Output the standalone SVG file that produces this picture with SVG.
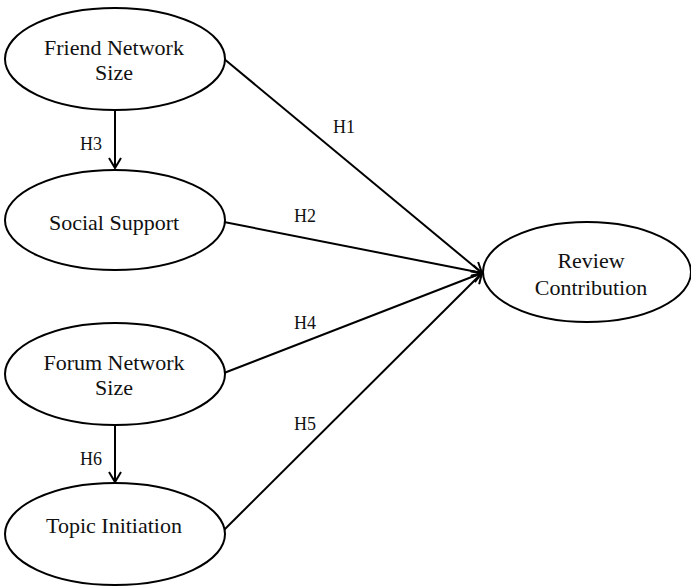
<svg xmlns="http://www.w3.org/2000/svg" width="691" height="586" viewBox="0 0 691 586">
<defs>
<style>
.node ellipse{fill:#fff;stroke:#000;stroke-width:2}
.node text{font-family:"Liberation Serif","Times New Roman",serif;font-size:22px;fill:#111;text-anchor:middle}
.conn line{stroke:#000;stroke-width:2;marker-end:url(#arr)}
.lbl{font-family:"Liberation Serif","Times New Roman",serif;font-size:18px;fill:#111;text-anchor:middle}
</style>
<marker id="arr" viewBox="0 0 14 14" refX="12" refY="7" markerWidth="14" markerHeight="14" markerUnits="userSpaceOnUse" orient="auto">
<path d="M2,1 L12,7 L2,13" fill="none" stroke="#000" stroke-width="2"/>
</marker>
</defs>
<rect width="691" height="586" fill="#fff"/>
<g id="connectors" class="conn">
<line x1="115" y1="110" x2="115" y2="168"/>
<line x1="115" y1="425" x2="115" y2="482"/>
<line x1="223" y1="58" x2="482" y2="273"/>
<line x1="224" y1="222" x2="482" y2="273"/>
<line x1="224" y1="373" x2="482" y2="273"/>
<line x1="223" y1="531" x2="482" y2="273"/>
</g>
<g id="labels">
<text class="lbl" x="91" y="150">H3</text>
<text class="lbl" x="91" y="465">H6</text>
<text class="lbl" x="344" y="133">H1</text>
<text class="lbl" x="305" y="222">H2</text>
<text class="lbl" x="305" y="329">H4</text>
<text class="lbl" x="305" y="430">H5</text>
</g>
<g id="friend" class="node">
<ellipse cx="115" cy="59" rx="110" ry="51"/>
<text x="114" y="55">Friend Network</text>
<text x="114" y="80">Size</text>
</g>
<g id="social" class="node">
<ellipse cx="115" cy="220" rx="110" ry="50"/>
<text x="114" y="230">Social Support</text>
</g>
<g id="forum" class="node">
<ellipse cx="115" cy="374" rx="110" ry="51"/>
<text x="114" y="370">Forum Network</text>
<text x="114" y="395">Size</text>
</g>
<g id="topic" class="node">
<ellipse cx="115" cy="534" rx="110" ry="51"/>
<text x="114" y="533">Topic Initiation</text>
</g>
<g id="review" class="node">
<ellipse cx="587" cy="272" rx="104" ry="50"/>
<text x="591" y="268">Review</text>
<text x="591" y="295">Contribution</text>
</g>
</svg>
